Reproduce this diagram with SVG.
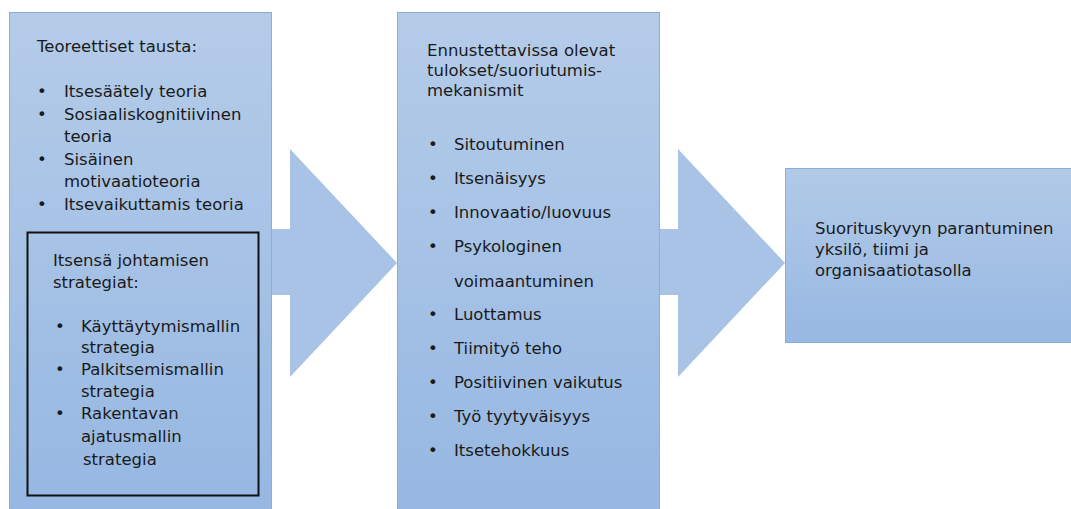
<svg xmlns="http://www.w3.org/2000/svg" width="1071" height="509" viewBox="0 0 1071 509">
<defs>
<linearGradient id="gTall" x1="0" y1="0" x2="0" y2="1">
<stop offset="0" stop-color="#b5cce9"/>
<stop offset="1" stop-color="#95b7e2"/>
</linearGradient>
<linearGradient id="gShort" x1="0" y1="0" x2="0" y2="1">
<stop offset="0" stop-color="#b2cae8"/>
<stop offset="1" stop-color="#97b8e2"/>
</linearGradient>
<style>
.box{stroke:#8aaed6;stroke-width:1}
.arrow{fill:#a8c3e6}
text{font-family:"DejaVu Sans","Liberation Sans",sans-serif;font-size:16.5px;fill:#1a1a1a}
</style>
</defs>
<rect width="1071" height="509" fill="#ffffff"/>
<g id="connectors">
<path class="arrow" d="M250,229 H290 V149 L397,263 L290,377 V295 H250 Z"/>
<path class="arrow" d="M640,229 H678 V149 L785,263 L678,377 V295 H640 Z"/>
</g>
<g id="node-left">
<rect class="box" x="9.5" y="12.5" width="262" height="510" fill="url(#gTall)"/>
<text x="37" y="52">Teoreettiset tausta:</text>
<text x="37" y="97">•</text><text x="64" y="97">Itsesäätely teoria</text>
<text x="37" y="119.5">•</text><text x="64" y="119.5">Sosiaaliskognitiivinen</text>
<text x="64" y="142">teoria</text>
<text x="37" y="164.5">•</text><text x="64" y="164.5">Sisäinen</text>
<text x="64" y="187">motivaatioteoria</text>
<text x="37" y="209.5">•</text><text x="64" y="209.5">Itsevaikuttamis teoria</text>
</g>
<g id="node-strategies">
<rect x="27.5" y="232.5" width="231" height="263" fill="none" stroke="#111111" stroke-width="2"/>
<text x="53" y="266">Itsensä johtamisen</text>
<text x="53" y="288">strategiat:</text>
<text x="55" y="332">•</text><text x="81" y="332">Käyttäytymismallin</text>
<text x="81" y="353">strategia</text>
<text x="55" y="375">•</text><text x="81" y="375">Palkitsemismallin</text>
<text x="81" y="397">strategia</text>
<text x="55" y="419">•</text><text x="81" y="419">Rakentavan</text>
<text x="81" y="442">ajatusmallin</text>
<text x="83" y="465">strategia</text>
</g>
<g id="node-middle">
<rect class="box" x="397.5" y="12.5" width="262" height="510" fill="url(#gTall)"/>
<text x="427" y="56">Ennustettavissa olevat</text>
<text x="427" y="76">tulokset/suoriutumis-</text>
<text x="427" y="96">mekanismit</text>
<text x="428" y="150">•</text><text x="454" y="150">Sitoutuminen</text>
<text x="428" y="184">•</text><text x="454" y="184">Itsenäisyys</text>
<text x="428" y="218">•</text><text x="454" y="218">Innovaatio/luovuus</text>
<text x="428" y="252">•</text><text x="454" y="252">Psykologinen</text>
<text x="454" y="287">voimaantuminen</text>
<text x="428" y="320">•</text><text x="454" y="320">Luottamus</text>
<text x="428" y="354">•</text><text x="454" y="354">Tiimityö teho</text>
<text x="428" y="388">•</text><text x="454" y="388">Positiivinen vaikutus</text>
<text x="428" y="422">•</text><text x="454" y="422">Työ tyytyväisyys</text>
<text x="428" y="456">•</text><text x="454" y="456">Itsetehokkuus</text>
</g>
<g id="node-right">
<rect class="box" x="785.5" y="168.5" width="300" height="174" fill="url(#gShort)"/>
<text x="815" y="234">Suorituskyvyn parantuminen</text>
<text x="815" y="255">yksilö, tiimi ja</text>
<text x="815" y="276">organisaatiotasolla</text>
</g>
</svg>
